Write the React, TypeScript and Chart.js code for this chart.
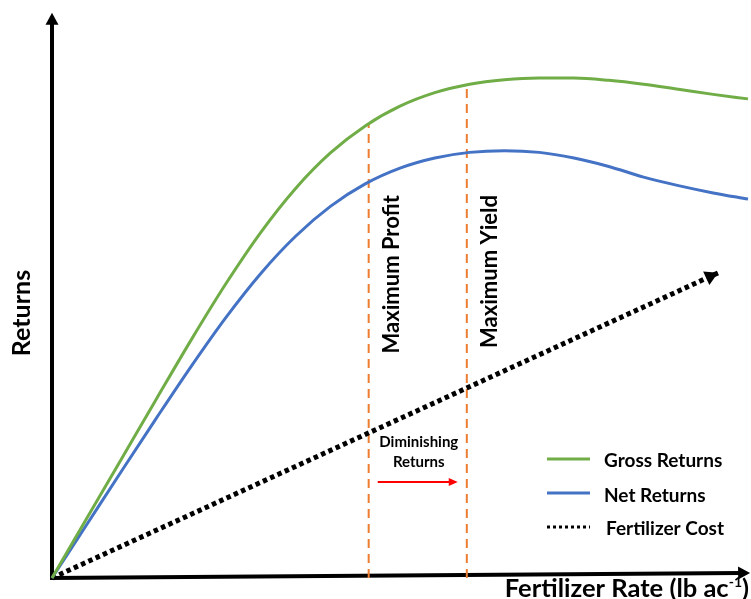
import React, { useEffect, useRef } from "react";
import { Chart, registerables } from "chart.js";

Chart.register(...registerables);

// ---- data (arbitrary conceptual units, 0-100 on both axes) ----
const rates = [0, 5, 10, 15, 20, 25, 30, 35, 40, 45, 50, 55, 60, 65, 70, 75, 80, 85, 90, 95, 100];
const grossReturns = [0, 10.6, 21.2, 31.8, 42.3, 52.3, 61.4, 69.2, 75.5, 80.3, 83.8, 86.2, 87.7, 88.5, 88.8, 88.8, 88.4, 87.7, 86.8, 85.9, 85.1];
const netReturns = [0, 9.5, 19.0, 28.4, 37.6, 46.3, 54.1, 60.7, 66.0, 70.0, 72.8, 74.6, 75.6, 75.9, 75.6, 74.6, 73.1, 71.2, 69.7, 68.4, 67.3];

const costRate = [0, 95.7];
const costValues = [0, 54.2];

const maxProfitRate = 45.5;
const maxProfitTop = 80.6;
const maxYieldRate = 59.6;
const maxYieldTop = 87.6;

const seriesLabels = ["Gross Returns", "Net Returns", "Fertilizer Cost"];
const markerLabels = ["Maximum Profit", "Maximum Yield"];
const diminishingLines = ["Diminishing", "Returns"];
const diminishingArrowRate = [46.8, 58.3];
const diminishingArrowLevel = 17.05;
const diminishingTextRate = 52.7;
const diminishingTextLevels = [23.3, 19.7];

const xAxisTitle = "Fertilizer Rate (lb ac";
const xAxisTitleSup = "-1";
const xAxisTitleEnd = ")";
const yAxisTitle = "Returns";

const xAxisEnd = [100.3, 0.9];
const yAxisEnd = [0, 100.4];

const FONT = "Lato, 'Open Sans', sans-serif";

const pts = (xs: number[], ys: number[]) => xs.map((x, i) => ({ x, y: ys[i] }));

function arrowHead(ctx: CanvasRenderingContext2D, x0: number, y0: number, x1: number, y1: number, len: number, half: number, color: string) {
  const a = Math.atan2(y1 - y0, x1 - x0);
  ctx.save();
  ctx.fillStyle = color;
  ctx.beginPath();
  ctx.moveTo(x1, y1);
  ctx.lineTo(x1 - len * Math.cos(a) + half * Math.sin(a), y1 - len * Math.sin(a) - half * Math.cos(a));
  ctx.lineTo(x1 - len * Math.cos(a) - half * Math.sin(a), y1 - len * Math.sin(a) + half * Math.cos(a));
  ctx.closePath();
  ctx.fill();
  ctx.restore();
}

const axesPlugin = {
  id: "conceptAxes",
  beforeDatasetsDraw(chart: any) {
    const { ctx, scales } = chart;
    const xs = scales.x, ys = scales.y;
    const ox = xs.getPixelForValue(0), oy = ys.getPixelForValue(0);
    ctx.save();
    ctx.strokeStyle = "#000";
    ctx.lineWidth = 4;
    ctx.lineCap = "butt";
    const yTopX = xs.getPixelForValue(yAxisEnd[0]);
    const yTopY = ys.getPixelForValue(yAxisEnd[1]);
    ctx.beginPath();
    ctx.moveTo(ox, oy + 2);
    ctx.lineTo(yTopX, yTopY + 10);
    ctx.stroke();
    arrowHead(ctx, ox, oy, yTopX, yTopY, 12, 6.5, "#000");
    const xEndX = xs.getPixelForValue(xAxisEnd[0]);
    const xEndY = ys.getPixelForValue(xAxisEnd[1]);
    ctx.beginPath();
    ctx.moveTo(ox - 2, oy);
    ctx.lineTo(xEndX - 10, xEndY);
    ctx.stroke();
    arrowHead(ctx, ox, oy, xEndX, xEndY, 12, 6.5, "#000");
    ctx.restore();
  },
  afterDatasetsDraw(chart: any) {
    const { ctx, scales, chartArea } = chart;
    const xs = scales.x, ys = scales.y;
    ctx.save();
    const c0x = xs.getPixelForValue(costRate[0]), c0y = ys.getPixelForValue(costValues[0]);
    const c1x = xs.getPixelForValue(costRate[1]), c1y = ys.getPixelForValue(costValues[1]);
    arrowHead(ctx, c0x, c0y, c1x, c1y, 13, 7.5, "#000");

    // vertical marker labels
    ctx.fillStyle = "#000";
    ctx.font = `bold 22px ${FONT}`;
    ctx.textBaseline = "alphabetic";
    ctx.textAlign = "right";
    [maxProfitRate, maxYieldRate].forEach((r, i) => {
      const px = xs.getPixelForValue(r) + 30;
      ctx.save();
      ctx.translate(px, 195);
      ctx.rotate(-Math.PI / 2);
      ctx.fillText(markerLabels[i], 0, 0);
      ctx.restore();
    });

    // diminishing returns
    ctx.font = `bold 15px ${FONT}`;
    ctx.textAlign = "center";
    diminishingLines.forEach((t, i) => {
      ctx.fillText(t, xs.getPixelForValue(diminishingTextRate), ys.getPixelForValue(diminishingTextLevels[i]));
    });
    const a0 = xs.getPixelForValue(diminishingArrowRate[0]);
    const a1 = xs.getPixelForValue(diminishingArrowRate[1]);
    const ay = ys.getPixelForValue(diminishingArrowLevel);
    ctx.strokeStyle = "#FF0000";
    ctx.lineWidth = 2;
    ctx.beginPath();
    ctx.moveTo(a0, ay);
    ctx.lineTo(a1 - 6, ay);
    ctx.stroke();
    arrowHead(ctx, a0, ay, a1, ay, 9, 4, "#FF0000");

    // legend
    const rows = [
      { lineY: 459, base: 467 },
      { lineY: 493, base: 502 },
      { lineY: 527, base: 535 },
    ];
    chart.data.datasets.slice(0, 3).forEach((ds: any, i: number) => {
      const r = rows[i];
      ctx.save();
      ctx.strokeStyle = ds.borderColor;
      ctx.lineWidth = 3;
      ctx.setLineDash(i === 2 ? [3, 3] : []);
      ctx.beginPath();
      ctx.moveTo(547, r.lineY);
      ctx.lineTo(590, r.lineY);
      ctx.stroke();
      ctx.restore();
      ctx.font = `bold 19px ${FONT}`;
      ctx.textAlign = "left";
      ctx.fillStyle = "#000";
      ctx.fillText(ds.label, i === 2 ? 606 : 604, r.base);
    });

    // x axis title with superscript
    const big = `bold 25.5px ${FONT}`;
    const small = `bold 14px ${FONT}`;
    ctx.font = big;
    const w1 = ctx.measureText(xAxisTitle).width;
    const w3 = ctx.measureText(xAxisTitleEnd).width;
    ctx.font = small;
    const w2 = ctx.measureText(xAxisTitleSup).width;
    const right = chartArea.right + 1;
    let sx = right - (w1 + w2 + w3);
    const base = 597;
    ctx.textAlign = "left";
    ctx.font = big;
    ctx.fillText(xAxisTitle, sx, base);
    sx += w1;
    ctx.font = small;
    ctx.fillText(xAxisTitleSup, sx, base - 10);
    sx += w2;
    ctx.font = big;
    ctx.fillText(xAxisTitleEnd, sx, base);

    // y axis title
    ctx.save();
    ctx.font = `bold 25px ${FONT}`;
    ctx.textAlign = "center";
    ctx.translate(30, 313);
    ctx.rotate(-Math.PI / 2);
    ctx.fillText(yAxisTitle, 0, 0);
    ctx.restore();

    ctx.restore();
  },
};

export default function App() {
  const ref = useRef<HTMLCanvasElement>(null);
  useEffect(() => {
    const canvas = ref.current;
    if (!canvas) return;
    const chart = new Chart(canvas, {
      type: "line",
      data: {
        datasets: [
          {
            label: seriesLabels[0],
            data: pts(rates, grossReturns),
            borderColor: "#70AD47",
            borderWidth: 3,
            cubicInterpolationMode: "monotone",
            pointRadius: 0,
            clip: false,
          },
          {
            label: seriesLabels[1],
            data: pts(rates, netReturns),
            borderColor: "#4472C4",
            borderWidth: 3,
            cubicInterpolationMode: "monotone",
            pointRadius: 0,
            clip: false,
          },
          {
            label: seriesLabels[2],
            data: pts(costRate, costValues),
            borderColor: "#000000",
            borderWidth: 5,
            borderDash: [4.5, 3.5],
            borderCapStyle: "butt",
            pointRadius: 0,
            clip: false,
          },
          {
            label: markerLabels[0],
            data: pts([maxProfitRate, maxProfitRate], [0, maxProfitTop]),
            borderColor: "#ED7D31",
            borderWidth: 2,
            borderDash: [9, 6],
            pointRadius: 0,
            clip: false,
          },
          {
            label: markerLabels[1],
            data: pts([maxYieldRate, maxYieldRate], [0, maxYieldTop]),
            borderColor: "#ED7D31",
            borderWidth: 2,
            borderDash: [9, 6],
            pointRadius: 0,
            clip: false,
          },
        ],
      } as any,
      options: {
        responsive: false,
        maintainAspectRatio: false,
        animation: false,
        devicePixelRatio: 1,
        layout: { padding: { left: 52, right: 3, top: 15, bottom: 21 } },
        scales: {
          x: { type: "linear", min: 0, max: 100, display: false },
          y: { type: "linear", min: 0, max: 100, display: false },
        },
        plugins: {
          legend: { display: false },
          tooltip: { enabled: false },
          title: { display: false },
        },
      } as any,
      plugins: [axesPlugin],
    });
    return () => chart.destroy();
  }, []);
  return (
    <div style={{ position: "absolute", left: 0, top: 0, width: 751, height: 599, background: "#ffffff" }}>
      <canvas ref={ref} width={751} height={599} style={{ display: "block", width: 751, height: 599 }} />
    </div>
  );
}
